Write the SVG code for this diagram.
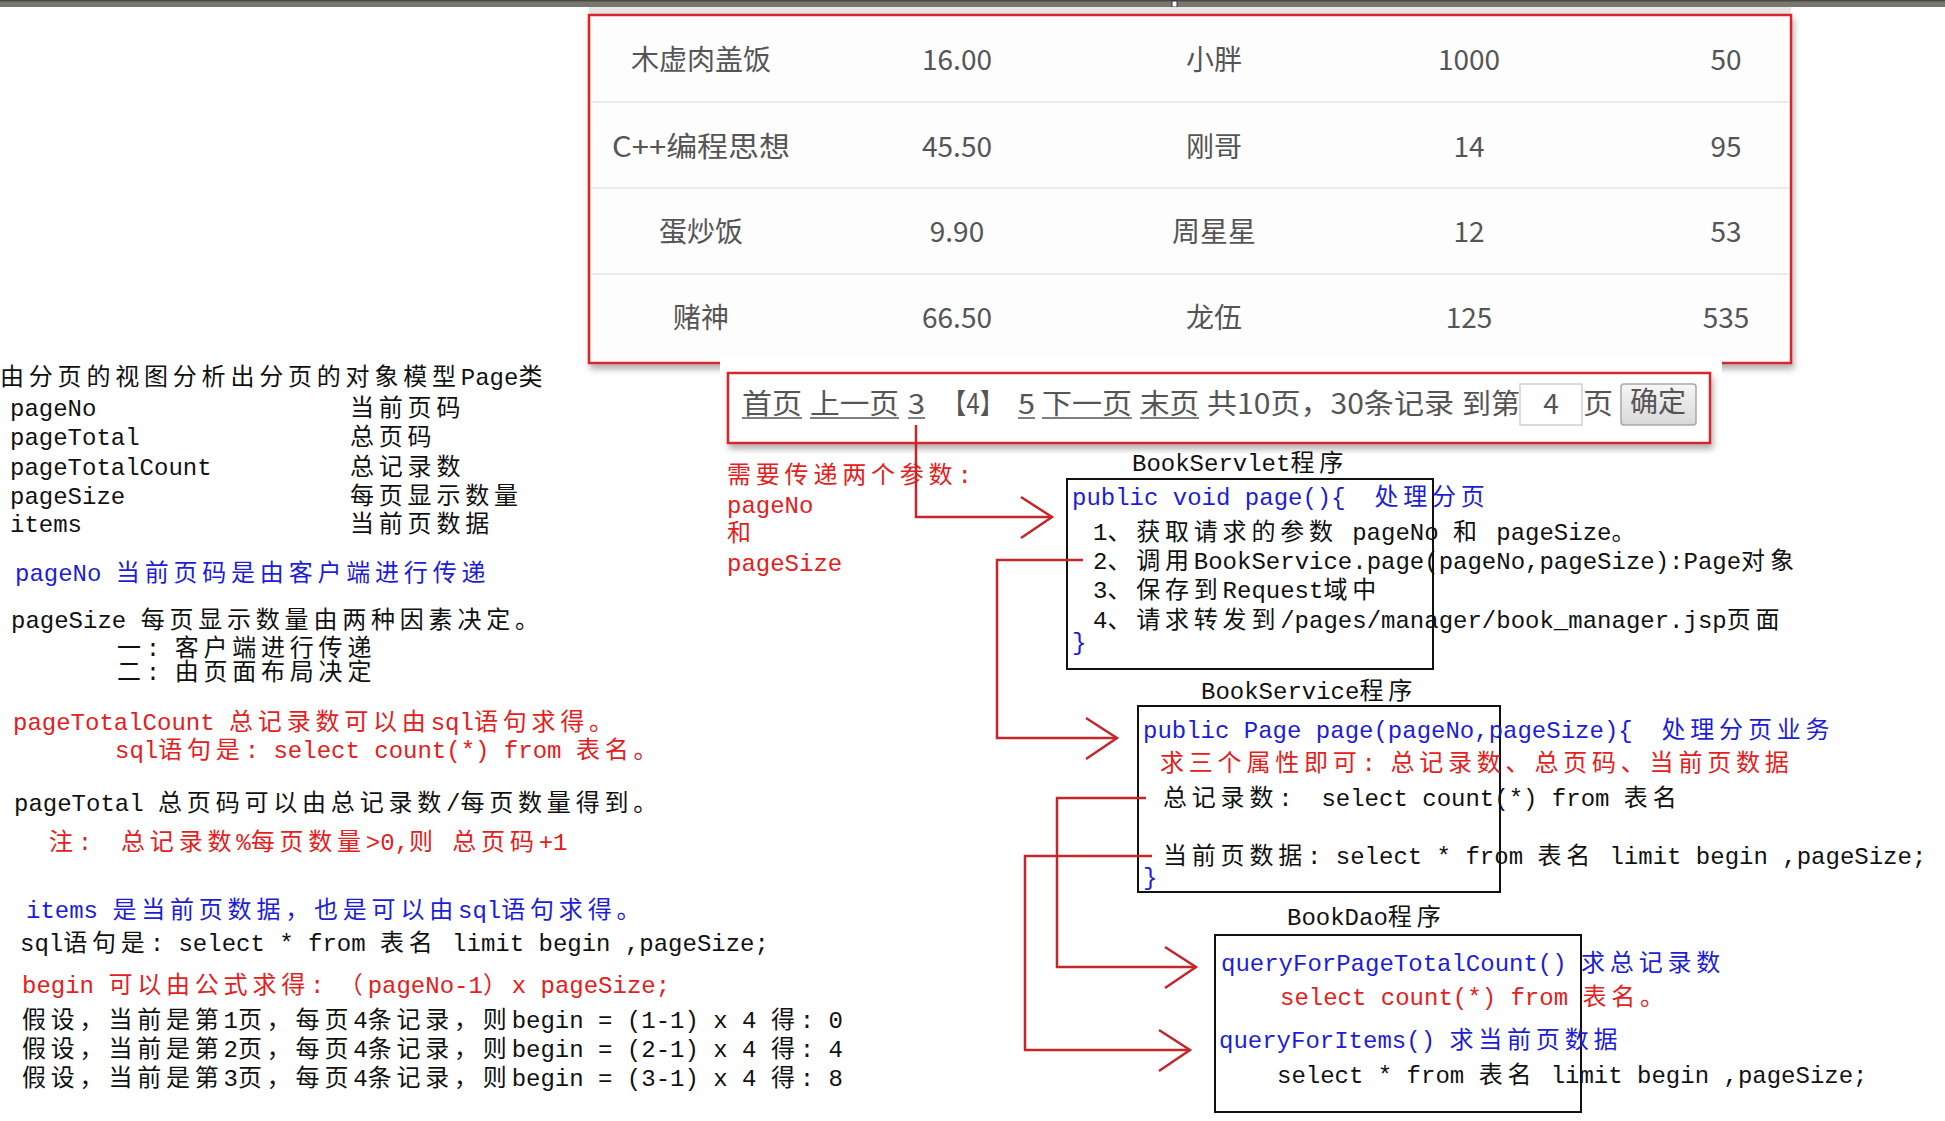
<svg xmlns="http://www.w3.org/2000/svg" width="1945" height="1121" viewBox="0 0 1945 1121">
<defs>
<style>
.m{font-family:"Liberation Mono","Noto Sans CJK SC",monospace;font-size:24px;white-space:pre}
.c{letter-spacing:4.8px}
.k{fill:#111}
.r{fill:#e5201c}
.b{fill:#1d1dd8}
.t{font-family:"Noto Sans CJK SC","Noto Sans",sans-serif;font-size:28px;fill:#555;text-anchor:middle}
.p{font-family:"Noto Sans CJK SC","Noto Sans",sans-serif;font-size:28px;fill:#555}
.u{stroke:#555;stroke-width:1.5}
.box{fill:none;stroke:#111;stroke-width:2}
.cn{fill:none;stroke:#c4262a;stroke-width:2.5}
.rl{stroke:#e4e4e4;stroke-width:1.5}
</style>
<filter id="sh" x="-5%" y="-10%" width="110%" height="125%">
<feDropShadow dx="2" dy="5" stdDeviation="3" flood-color="#555" flood-opacity="0.45"/>
</filter>
<linearGradient id="btn" x1="0" y1="0" x2="0" y2="1">
<stop offset="0" stop-color="#f6f6f6"/>
<stop offset="1" stop-color="#d8d8d8"/>
</linearGradient>
<marker id="ar" markerUnits="userSpaceOnUse" viewBox="-36 -26 40 52" refX="0" refY="0" markerWidth="40" markerHeight="52" orient="auto">
<path d="M-31,-20 L0,0 L-31,21" fill="none" stroke="#c4262a" stroke-width="2.5"/>
</marker>
</defs>
<rect width="1945" height="1121" fill="#ffffff"/>
<g id="topbar">
<rect x="0" y="0" width="1945" height="7" fill="#78776f"/>
<rect x="0" y="0" width="1945" height="1.5" fill="#4a4a46"/>
<rect x="1172" y="1" width="5" height="6" fill="#ffffff" stroke="#333" stroke-width="1"/>
<rect x="589" y="7" width="1202" height="8" fill="#e6e6e6"/>
</g>
<g id="table">
<rect x="589" y="15" width="1202" height="348" fill="#fdfdfd" stroke="#d9262a" stroke-width="2.5" filter="url(#sh)"/>
<line class="rl" x1="591" y1="102" x2="1789" y2="102"/>
<line class="rl" x1="591" y1="188" x2="1789" y2="188"/>
<line class="rl" x1="591" y1="274" x2="1789" y2="274"/>
<text class="t" x="701" y="70">木虚肉盖饭</text>
<text class="t" x="957" y="70">16.00</text>
<text class="t" x="1214" y="70">小胖</text>
<text class="t" x="1469" y="70">1000</text>
<text class="t" x="1726" y="70">50</text>
<text class="t" x="701" y="157" textLength="178" lengthAdjust="spacingAndGlyphs">C++编程思想</text>
<text class="t" x="957" y="157">45.50</text>
<text class="t" x="1214" y="157">刚哥</text>
<text class="t" x="1469" y="157">14</text>
<text class="t" x="1726" y="157">95</text>
<text class="t" x="701" y="242">蛋炒饭</text>
<text class="t" x="957" y="242">9.90</text>
<text class="t" x="1214" y="242">周星星</text>
<text class="t" x="1469" y="242">12</text>
<text class="t" x="1726" y="242">53</text>
<text class="t" x="701" y="328">赌神</text>
<text class="t" x="957" y="328">66.50</text>
<text class="t" x="1214" y="328">龙伍</text>
<text class="t" x="1469" y="328">125</text>
<text class="t" x="1726" y="328">535</text>
</g>
<g id="pagination">
<rect x="720" y="357" width="1002" height="96" fill="#ffffff"/>
<rect x="728" y="373" width="982" height="70" fill="#ffffff" stroke="#d9262a" stroke-width="2.5" filter="url(#sh)"/>
<text class="p" x="742" y="414" textLength="60" lengthAdjust="spacingAndGlyphs">首页</text>
<text class="p" x="810" y="414" textLength="89" lengthAdjust="spacingAndGlyphs">上一页</text>
<text class="p" x="908" y="414" textLength="17" lengthAdjust="spacingAndGlyphs">3</text>
<text class="p" x="942" y="414" textLength="62" lengthAdjust="spacingAndGlyphs">【4】</text>
<text class="p" x="1018" y="414" textLength="17" lengthAdjust="spacingAndGlyphs">5</text>
<text class="p" x="1042" y="414" textLength="90" lengthAdjust="spacingAndGlyphs">下一页</text>
<text class="p" x="1140" y="414" textLength="59" lengthAdjust="spacingAndGlyphs">末页</text>
<text class="p" x="1207" y="414" textLength="247" lengthAdjust="spacingAndGlyphs">共10页，30条记录</text>
<text class="p" x="1462" y="414" textLength="58" lengthAdjust="spacingAndGlyphs">到第</text>
<rect x="1520" y="384" width="62" height="41" fill="#ffffff" stroke="#cfcfcf" stroke-width="1.5"/>
<text class="p" x="1551" y="414" text-anchor="middle" font-size="24">4</text>
<text class="p" x="1583" y="414" textLength="30" lengthAdjust="spacingAndGlyphs">页</text>
<rect x="1621" y="384" width="75" height="41" rx="3" fill="url(#btn)" stroke="#a8a8a8" stroke-width="1.5"/>
<text class="p" x="1658" y="412" text-anchor="middle" font-size="20" fill="#6a6a6a">确定</text>
<line class="u" x1="742" y1="418" x2="802" y2="418"/>
<line class="u" x1="810" y1="418" x2="899" y2="418"/>
<line class="u" x1="908" y1="418" x2="925" y2="418"/>
<line class="u" x1="1018" y1="418" x2="1035" y2="418"/>
<line class="u" x1="1042" y1="418" x2="1132" y2="418"/>
<line class="u" x1="1140" y1="418" x2="1199" y2="418"/>
</g>
<g id="page-model-notes">
<text class="m k" x="0" y="385"><tspan class="c">由分页的视图分析出分页的对象模型</tspan>Page<tspan class="c">类</tspan></text>
<text class="m k" x="10" y="416">pageNo</text>
<text class="m k c" x="350" y="416">当前页码</text>
<text class="m k" x="10" y="445">pageTotal</text>
<text class="m k c" x="350" y="445">总页码</text>
<text class="m k" x="10" y="475">pageTotalCount</text>
<text class="m k c" x="350" y="475">总记录数</text>
<text class="m k" x="10" y="504">pageSize</text>
<text class="m k c" x="350" y="504">每页显示数量</text>
<text class="m k" x="10" y="532">items</text>
<text class="m k c" x="350" y="532">当前页数据</text>
<text class="m b" x="15" y="581">pageNo <tspan class="c">当前页码是由客户端进行传递</tspan></text>
<text class="m k" x="11" y="628">pageSize <tspan class="c">每页显示数量由两种因素决定。</tspan></text>
<text class="m k" x="117" y="656"><tspan class="c">一</tspan>: <tspan class="c">客户端进行传递</tspan></text>
<text class="m k" x="117" y="680"><tspan class="c">二</tspan>: <tspan class="c">由页面布局决定</tspan></text>
<text class="m r" x="13" y="730">pageTotalCount <tspan class="c">总记录数可以由</tspan>sql<tspan class="c">语句求得。</tspan></text>
<text class="m r" x="115" y="758">sql<tspan class="c">语句是</tspan>: select count(*) from <tspan class="c">表名。</tspan></text>
<text class="m k" x="14" y="811">pageTotal <tspan class="c">总页码可以由总记录数</tspan>/<tspan class="c">每页数量得到。</tspan></text>
<text class="m r" x="49" y="850"><tspan class="c">注</tspan>:  <tspan class="c">总记录数</tspan>%<tspan class="c">每页数量</tspan>&gt;0,<tspan class="c">则</tspan> <tspan class="c">总页码</tspan>+1</text>
<text class="m b" x="26" y="918">items <tspan class="c">是当前页数据，也是可以由</tspan>sql<tspan class="c">语句求得。</tspan></text>
<text class="m k" x="20" y="951">sql<tspan class="c">语句是</tspan>: select * from <tspan class="c">表名</tspan> limit begin ,pageSize;</text>
<text class="m r" x="22" y="993">begin <tspan class="c">可以由公式求得</tspan>: <tspan class="c">（</tspan>pageNo-1<tspan class="c">）</tspan>x pageSize;</text>
<text class="m k" x="22" y="1028"><tspan class="c">假设，当前是第</tspan>1<tspan class="c">页，每页</tspan>4<tspan class="c">条记录，则</tspan>begin = (1-1) x 4 <tspan class="c">得</tspan>: 0</text>
<text class="m k" x="22" y="1057"><tspan class="c">假设，当前是第</tspan>2<tspan class="c">页，每页</tspan>4<tspan class="c">条记录，则</tspan>begin = (2-1) x 4 <tspan class="c">得</tspan>: 4</text>
<text class="m k" x="22" y="1086"><tspan class="c">假设，当前是第</tspan>3<tspan class="c">页，每页</tspan>4<tspan class="c">条记录，则</tspan>begin = (3-1) x 4 <tspan class="c">得</tspan>: 8</text>
</g>
<g id="params-note">
<text class="m r" x="727" y="483"><tspan class="c">需要传递两个参数</tspan>:</text>
<text class="m r" x="727" y="513">pageNo</text>
<text class="m r c" x="727" y="541">和</text>
<text class="m r" x="727" y="571">pageSize</text>
</g>
<g id="book-servlet">
<text class="m k" x="1132" y="471">BookServlet<tspan class="c">程序</tspan></text>
<rect class="box" x="1067" y="479" width="366" height="190"/>
<text class="m b" x="1072" y="505">public void page(){  <tspan class="c">处理分页</tspan></text>
<text class="m k" x="1093" y="540">1<tspan class="c">、获取请求的参数</tspan> pageNo <tspan class="c">和</tspan> pageSize<tspan class="c">。</tspan></text>
<text class="m k" x="1093" y="569">2<tspan class="c">、调用</tspan>BookService.page(pageNo,pageSize):Page<tspan class="c">对象</tspan></text>
<text class="m k" x="1093" y="598">3<tspan class="c">、保存到</tspan>Request<tspan class="c">域中</tspan></text>
<text class="m k" x="1093" y="628">4<tspan class="c">、请求转发到</tspan>/pages/manager/book_manager.jsp<tspan class="c">页面</tspan></text>
<text class="m b" x="1072" y="650">}</text>
</g>
<g id="book-service">
<text class="m k" x="1201" y="699">BookService<tspan class="c">程序</tspan></text>
<rect class="box" x="1138" y="706" width="362" height="186"/>
<text class="m b" x="1143" y="738">public Page page(pageNo,pageSize){  <tspan class="c">处理分页业务</tspan></text>
<text class="m r" x="1160" y="771"><tspan class="c">求三个属性即可</tspan>: <tspan class="c">总记录数、总页码、当前页数据</tspan></text>
<text class="m k" x="1163" y="806"><tspan class="c">总记录数</tspan>:  select count(*) from <tspan class="c">表名</tspan></text>
<text class="m k" x="1163" y="864"><tspan class="c">当前页数据</tspan>: select * from <tspan class="c">表名</tspan> limit begin ,pageSize;</text>
<text class="m b" x="1143" y="885">}</text>
</g>
<g id="book-dao">
<text class="m k" x="1287" y="925">BookDao<tspan class="c">程序</tspan></text>
<rect class="box" x="1215" y="935" width="366" height="177"/>
<text class="m b" x="1221" y="971">queryForPageTotalCount() <tspan class="c">求总记录数</tspan></text>
<text class="m r" x="1280" y="1005">select count(*) from <tspan class="c">表名。</tspan></text>
<text class="m b" x="1219" y="1048">queryForItems() <tspan class="c">求当前页数据</tspan></text>
<text class="m k" x="1277" y="1083">select * from <tspan class="c">表名</tspan> limit begin ,pageSize;</text>
</g>
<g id="connectors">
<path class="cn" d="M916,425 V517 H1052" marker-end="url(#ar)"/>
<path class="cn" d="M1083,560 H997 V738 H1117" marker-end="url(#ar)"/>
<path class="cn" d="M1146,798 H1057 V967 H1196" marker-end="url(#ar)"/>
<path class="cn" d="M1152,856 H1025 V1050 H1190" marker-end="url(#ar)"/>
</g>
</svg>
